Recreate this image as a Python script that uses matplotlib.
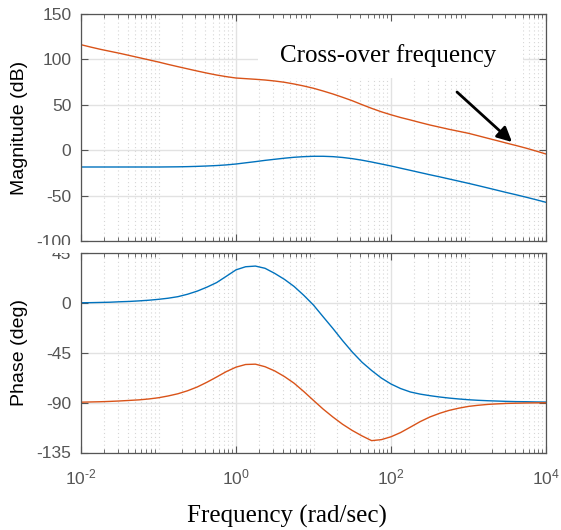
import matplotlib
matplotlib.use("Agg")
import matplotlib.pyplot as plt
from matplotlib.patches import Rectangle
from matplotlib.ticker import LogLocator, NullFormatter
import numpy as np

# frequencies (rad/sec), eight points per decade
freq = [0.01, 0.0133, 0.0178, 0.0237, 0.0316, 0.0422, 0.0562, 0.075,
        0.1, 0.133, 0.178, 0.237, 0.316, 0.422, 0.562, 0.75,
        1, 1.33, 1.78, 2.37, 3.16, 4.22, 5.62, 7.5,
        10, 13.3, 17.8, 23.7, 31.6, 42.2, 56.2, 75,
        100, 133, 178, 237, 316, 422, 562, 750,
        1000, 1330, 1780, 2370, 3160, 4220, 5620, 7500, 10000]

mag_orange = [116.2, 113.6, 111.1, 108.9, 106.7, 104.3, 101.9, 99.5,
              97.1, 94.5, 92.0, 89.6, 87.2, 84.9, 82.8, 81.0,
              79.5, 78.8, 78.1, 77.3, 76.2, 74.8, 72.9, 70.7,
              68.2, 65.2, 61.9, 58.3, 54.5, 50.2, 46.1, 42.3,
              39.0, 36.0, 33.3, 30.5, 27.8, 25.4, 23.0, 20.8,
              18.6, 15.9, 13.1, 10.4, 7.6, 4.9, 2.1, -1.0, -4.2]
mag_blue = [-18.5, -18.5, -18.5, -18.5, -18.5, -18.5, -18.5, -18.5,
            -18.5, -18.4, -18.3, -18.1, -17.8, -17.4, -16.9, -16.2,
            -15.2, -13.9, -12.6, -11.2, -10.0, -8.8, -7.8, -7.1,
            -6.7, -6.7, -7.1, -8.0, -9.3, -11.0, -13.0, -15.2,
            -17.4, -19.8, -22.2, -24.6, -27.0, -29.3, -31.7, -34.1,
            -36.5, -39.0, -41.6, -44.2, -46.8, -49.3, -51.9, -54.6, -57.4]

ph_blue = [0.1, 0.2, 0.4, 0.6, 1.0, 1.3, 1.8, 2.4,
           3.2, 4.2, 5.6, 7.8, 10.6, 14.2, 18.3, 24.0,
           29.8, 32.6, 33.2, 31.2, 26.6, 21.2, 14.8, 6.8,
           -2.0, -12.5, -23.1, -34.0, -44.3, -53.5, -61.0, -67.8,
           -73.2, -77.3, -80.4, -82.3, -83.7, -84.9, -85.9, -86.7,
           -87.4, -87.9, -88.3, -88.6, -88.9, -89.1, -89.2, -89.4, -89.5]
ph_orange = [-89.6, -89.4, -89.2, -88.9, -88.5, -88.0, -87.5, -86.7,
             -85.6, -84.0, -82.0, -79.3, -75.9, -71.6, -66.9, -62.0,
             -58.0, -55.6, -55.3, -57.6, -61.4, -66.5, -72.5, -80.0,
             -88.0, -95.8, -103.0, -109.5, -115.1, -120.0, -124.3, -123.4,
             -120.8, -117.0, -112.1, -107.2, -103.0, -99.7, -97.0, -95.0,
             -93.4, -92.4, -91.6, -91.1, -90.7, -90.5, -90.3, -90.2, -90.1]

mag_ticks = [-100, -50, 0, 50, 100, 150]
ph_ticks = [-135, -90, -45, 0, 45]
x_ticks = [1e-2, 1e0, 1e2, 1e4]
x_labels = [r'$\mathregular{10^{\text{-}2}}$', r'$\mathregular{10^{0}}$',
            r'$\mathregular{10^{2}}$', r'$\mathregular{10^{4}}$']

plt.rcParams['font.family'] = 'Liberation Sans'
plt.rcParams['mathtext.fontset'] = 'custom'
plt.rcParams['mathtext.rm'] = 'Liberation Sans'
plt.rcParams['axes.unicode_minus'] = False

blue = '#0072BD'
orange = '#D95319'
gray = '#555555'

W, H = 561, 530
fig = plt.figure(figsize=(W / 100, H / 100), dpi=100)

ax1 = fig.add_axes([81 / W, 1 - 241 / H, 465 / W, 227 / H])
ax2 = fig.add_axes([81 / W, 1 - 452.5 / H, 465 / W, 199.5 / H])

minor_x = [m * 10.0 ** k for k in range(-2, 4) for m in range(2, 10)]
minor_x += [1e-1, 1e1, 1e3]

for ax, yt, ylim in [(ax1, mag_ticks, (-100, 150)), (ax2, ph_ticks, (-135, 45))]:
    ax.set_xscale('log')
    ax.set_xlim(1e-2, 1e4)
    ax.set_ylim(*ylim)
    ax.set_yticks(yt)
    ax.set_xticks(x_ticks)
    ax.xaxis.set_minor_locator(LogLocator(subs=np.arange(2, 10), numticks=100))
    ax.xaxis.set_minor_formatter(NullFormatter())
    # grid drawn by hand so the text box can hide part of it
    for xv in minor_x:
        ax.axvline(xv, color='#d6d6d6', lw=0.8, ls=(0, (1, 2.5)), zorder=0.5)
    for xv in x_ticks:
        ax.axvline(xv, color='#e2e2e2', lw=1.0, zorder=0.6)
    for yv in yt:
        ax.axhline(yv, color='#e2e2e2', lw=1.0, zorder=0.6)
    ax.tick_params(which='both', direction='in', top=True, right=True, color=gray,
                   labelcolor=gray, labelsize=12.5)
    ax.tick_params(which='major', length=5, width=0.8)
    ax.tick_params(which='minor', length=3, width=0.6)
    ax.tick_params(axis='y', pad=7)
    for s in ax.spines.values():
        s.set_color(gray)
        s.set_linewidth(0.9)

ax1.set_xticklabels([])
ax2.set_xticklabels(x_labels)
ax2.tick_params(axis='x', pad=11)

ax1.plot(freq, mag_blue, color=blue, lw=1.0, zorder=2)
ax1.plot(freq, mag_orange, color=orange, lw=1.0, zorder=2)
ax2.plot(freq, ph_blue, color=blue, lw=1.0, zorder=2)
ax2.plot(freq, ph_orange, color=orange, lw=1.0, zorder=2)

# white box behind the annotation text
ax1.add_patch(Rectangle((258 / W, 1 - 78 / H), 265 / W, 64 / H, transform=fig.transFigure,
                        facecolor='white', edgecolor='none', zorder=1))
fig.patches.append(Rectangle((0, 1 - 253 / H), 81 / W, 8 / H, transform=fig.transFigure,
                             facecolor='white', edgecolor='none', zorder=1))

fig.text(280 / W, 1 - 62 / H, 'Cross-over frequency', family='Liberation Serif',
         fontsize=18, ha='left', va='baseline')
fig.text(287 / W, 1 - 523 / H, 'Frequency (rad/sec)', family='Liberation Serif',
         fontsize=18, ha='center', va='baseline')
fig.text(20 / W, 1 - 128 / H, 'Magnitude (dB)', fontsize=14, rotation=90,
         ha='center', va='center')
fig.text(20 / W, 1 - 352 / H, 'Phase (deg)', fontsize=14, rotation=90,
         ha='center', va='center')

ax1.annotate('', xy=(512 / W, 1 - 142 / H), xytext=(457 / W, 1 - 92 / H),
             xycoords='figure fraction', textcoords='figure fraction',
             arrowprops=dict(arrowstyle='-|>', color='black', lw=2, mutation_scale=22,
                             shrinkA=0, shrinkB=0))

fig.savefig('out.png', dpi=100)
